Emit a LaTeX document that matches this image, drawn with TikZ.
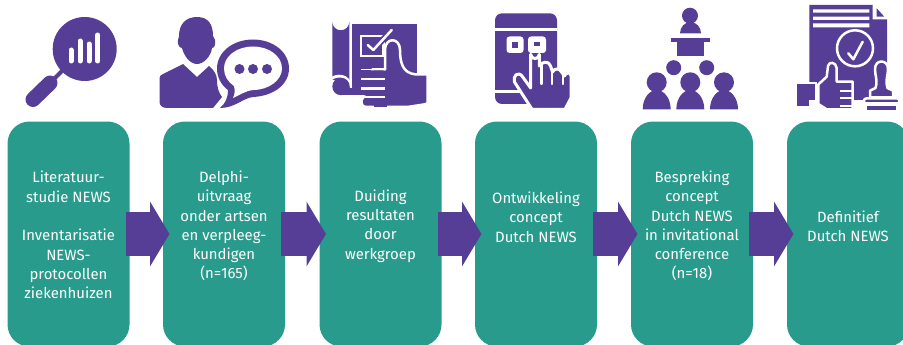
\documentclass[tikz,border=0pt]{standalone}
\usepackage{fontspec}
\setmainfont{Fira Sans}
\usetikzlibrary{arrows.meta}
\definecolor{newsteal}{HTML}{289B8C}
\definecolor{newspurple}{HTML}{563E96}
\tikzset{
  stepbox/.style={fill=newsteal,rounded corners=22pt,minimum width=122pt,minimum height=225pt,inner sep=0pt,outer sep=0pt},
  steptext/.style={text=white,align=center,font=\fontsize{14.9pt}{19.3pt}\selectfont,inner sep=0pt},
  flow/.style={draw=newspurple,line width=44pt,-{Triangle[length=19.5pt,width=64pt,fill=newspurple]},shorten >=0pt},
  ico/.style={fill=newspurple,draw=none},
  wht/.style={fill=white,draw=none},
  wline/.style={draw=white,line width=#1,line cap=round,line join=round},
  wline/.default=2.5pt,
  hand/.style={fill=newspurple,draw=white,line width=2.5pt,line join=round}
}
\begin{document}
\begin{tikzpicture}[x=1pt,y=-1pt]
\useasboundingbox (0,0) rectangle (903,345);
\clip (0,0) rectangle (903,345);
\foreach \n/\cx in {a/68.5,b/224,c/380.5,d/536,e/692,f/848}{
  \node[stepbox] (\n) at (\cx,234) {};
}
\draw[flow] ([xshift=-4pt]a.east) -- ([xshift=6.5pt]b.west);
\draw[flow] ([xshift=-4pt]b.east) -- ([xshift=6.5pt]c.west);
\draw[flow] ([xshift=-4pt]c.east) -- ([xshift=6.5pt]d.west);
\draw[flow] ([xshift=-4pt]d.east) -- ([xshift=6.5pt]e.west);
\draw[flow] ([xshift=-4pt]e.east) -- ([xshift=6.5pt]f.west);
\node[steptext,yshift=-1pt] (ta) at (a.center) {Literatuur-\\studie NEWS\\[19.3pt]Inventarisatie\\NEWS-\\protocollen\\ziekenhuizen};
\node[steptext,yshift=8pt] (tb) at (b.center) {Delphi-\\uitvraag\\onder artsen\\en verpleeg-\\kundigen\\(n=165)};
\node[steptext,yshift=8pt] (tc) at (c.center) {Duiding\\resultaten\\door\\werkgroep};
\node[steptext,yshift=17pt] (td) at (d.center) {Ontwikkeling\\concept\\Dutch NEWS};
\node[steptext,yshift=8pt] (te) at (e.center) {Bespreking\\concept\\Dutch NEWS\\in invitational\\conference\\(n=18)};
\node[steptext,yshift=8pt] (tf) at (f.center) {Definitief\\Dutch NEWS};

% icon 1: magnifier
\fill[ico] (84.7,49) circle (32);
\draw[newspurple,line width=4pt] (50,83) -- (64,69);
\draw[newspurple,line width=15pt,line cap=round] (33,99.5) -- (50,83);
\foreach \bx/\by in {71/50,80/41,89/44,97.7/35}{
  \draw[wline=5pt] (\bx,\by) -- (\bx,61);
}
% icon 2: person with speech bubble
\fill[ico] (197,17) .. controls (186,17) and (179,24) .. (179,36) -- (178,40) .. controls (177,45) and (180,48) .. (182,48)
  .. controls (184,56) and (190,64) .. (197,64) .. controls (204,64) and (211,56) .. (212,48)
  .. controls (214,48) and (216,45) .. (215,40) -- (213,36) .. controls (213,24) and (208,17) .. (197,17) -- cycle;
\fill[ico] (183,64) -- (197,77) -- (209,66) .. controls (214,70) and (217,75) .. (217,80) .. controls (217,88) and (219,93) .. (222,97)
  -- (213,108) -- (167,108) .. controls (162,108) and (159.5,105) .. (159.5,102) -- (159.5,78) .. controls (159.5,76) and (161,75) .. (163,74) -- cycle;
\fill[ico] (253,39.5) .. controls (273,39.5) and (289,52) .. (289,68.5) .. controls (289,85) and (273,96) .. (253,97)
  .. controls (243,98) and (235,108) .. (220,108) .. controls (225,104) and (228,98) .. (228,90)
  .. controls (221,85) and (217,77) .. (217,68.5) .. controls (217,52) and (233,39.5) .. (253,39.5) -- cycle;
\fill[wht] (253,46.5) .. controls (269,46.5) and (282,56) .. (282,68.5) .. controls (282,80) and (269,90) .. (253,90)
  .. controls (245,91) and (240,95) .. (233,98) .. controls (235,94) and (235,90) .. (234,86)
  .. controls (228,82) and (224,76) .. (224,68.5) .. controls (224,56) and (237,46.5) .. (253,46.5) -- cycle;
\foreach \dx in {239.5,253,267}{\fill[ico] (\dx,69) circle (5);}

% icon 3: plan with thumb up
\fill[ico] (352.3,24) rectangle (417.3,95);
\fill[ico] (341,95) rectangle (353,85);
\fill[ico] (332.3,80) -- (332.3,21.8) arc[start angle=180,end angle=0,radius=8.5] -- (349.3,80) -- cycle;
\draw[white,line width=2.6pt] (350.8,18) -- (350.8,88);
\draw[white,line width=2.8pt] (331,79) .. controls (336,74.5) and (349,74) .. (350.8,87);
\fill[ico] (341,86.5) circle (8.7);
\draw[white,line width=2.5pt] (361,36) rectangle (383.5,56);
\draw[newspurple,line width=6pt] (373.3,50) -- (391.7,30);
\draw[wline=2.5pt] (367.7,45) -- (373.3,50) -- (391.7,30);
\path[hand] (385,69.5) -- (385,50) .. controls (385,37) and (400,37) .. (400,50) .. controls (400,63) and (403,73) .. (415,74.3)
  -- (427.6,74.3) -- (427.6,103) -- (425,104.3) -- (408,106.9) -- (372,106.9) -- (372,69.5) -- cycle;
\foreach \fy/\fh in {70.5/8,80/7.3,89.3/6.5,97.7/8}{
  \fill[ico,rounded corners=3pt] (363,\fy) rectangle (386,\fy+\fh);
}
\fill[ico] (374,71) rectangle (386.5,106.9);
\foreach \ly in {79.3,88.6,96.9}{\draw[white,line width=2.2pt] (361,\ly) -- (385,\ly);}
\fill[wht] (361,69) rectangle (372,70);

% icon 4: tablet with pointing hand
\fill[ico,rounded corners=7pt] (495,13.3) rectangle (557,104);
\fill[wht] (495,28.5) rectangle (557,31);
\fill[wht] (495,90) rectangle (525,92.6);
\fill[wht,rounded corners=3pt] (506.5,36.5) rectangle (523.5,53);
\fill[ico] (512,42) rectangle (518,48);
\fill[wht,rounded corners=3pt] (528,36.5) rectangle (546,53);
\fill[ico] (534,42) rectangle (540,46);
\path[ico,draw=white,line width=3pt,line join=round] (530.7,54.3) arc[start angle=180,end angle=0,radius=4.3]
  -- (539.3,66) .. controls (541,62) and (549,60) .. (550.5,66) -- (552.5,72) .. controls (554,68) and (560,68) .. (561.5,72)
  -- (564.5,76) .. controls (565.5,72) and (571,72) .. (571,76) -- (571,98) -- (565,109.3) -- (532,109.3)
  -- (514.5,82) .. controls (512.5,76) and (518,71) .. (522,76) -- (530.7,88) -- cycle;
\foreach \gx/\gy in {541.5/65,551.8/71,563/75}{\draw[wline=2.3pt] (\gx,\gy) -- (\gx,84);}

% icon 5: conference
\fill[ico] (690,15.7) circle (8);
\fill[ico] (680,33.3) .. controls (680,27) and (685,22) .. (690.5,22) .. controls (696,22) and (701,27) .. (701,33.3) -- cycle;
\fill[ico] (670.7,37.7) rectangle (710,41.7);
\fill[ico] (676.7,41.7) rectangle (704,55.7);
\fill[ico] (673.7,67.7) circle (7.5);
\fill[ico] (706.7,67.7) circle (7.5);
\foreach \px in {656.7,690.3,724}{
  \fill[ico] (\px,82.3) circle (10);
  \fill[ico] (\px-14,109.3) .. controls (\px-14,98) and (\px-7,90) .. (\px,90) .. controls (\px+7,90) and (\px+14,98) .. (\px+14,109.3) -- cycle;
}

% icon 6: document, check, thumb, stamp
\fill[ico] (809.3,5) -- (872.7,5) -- (872.7,19.3) -- (887,19.3) -- (887,99) -- (809.3,99) -- cycle;
\fill[ico] (876.7,8.3) -- (876.7,16.7) -- (884.3,16.7) -- cycle;
\fill[wht] (813,9.3) rectangle (869.3,12.7) (813,16.7) rectangle (869.3,20) (813,23.5) rectangle (869.3,27.3);
\draw[white,line width=2.5pt] (855,48.3) circle (18);
\draw[wline=2.5pt] (848.3,53.3) -- (853.3,59.3) -- (862.7,41.7);
\fill[wht] (795,82) rectangle (817,110);
\fill[ico] (796.7,84) rectangle (815,105.7);
\fill[wht] (809,100) rectangle (903,112);
\path[hand] (818.3,84.5) -- (826.7,76.7) -- (828,66) .. controls (829,61) and (836,62) .. (836.7,68) -- (836.7,81.7) -- (852.7,81.7) -- (852.7,109.3) -- (826.7,109.3) -- (818.3,104) -- cycle;
\foreach \ly in {90.7,98.3,106}{\draw[white,line width=2pt] (840,\ly) -- (853.5,\ly);}
\fill[ico] (853.5,96) rectangle (864,100);
\path[hand] (875.5,88) .. controls (878,80) and (875,76) .. (875,69) .. controls (875,59) and (888,59) .. (888,69) .. controls (888,76) and (885,80) .. (887.5,88) -- (893,90.7) -- (893,97.3) -- (870,97.3) -- (870,90.7) -- cycle;
\path[hand,rounded corners=2pt] (864,98.5) rectangle (899.3,103.5);
\fill[ico] (867.3,106) rectangle (896,110);
\end{tikzpicture}
\end{document}
